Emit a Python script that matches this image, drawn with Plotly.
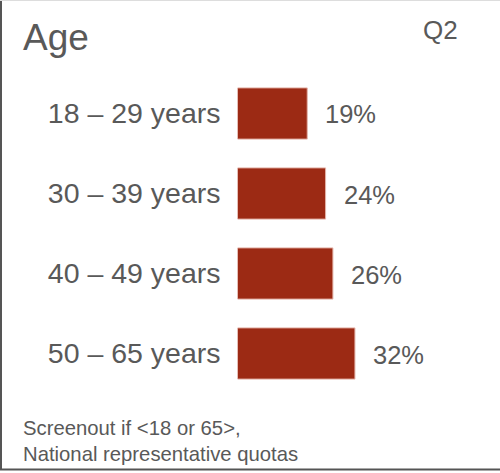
import plotly.graph_objects as go

# data
groups = ["18 – 29 years", "30 – 39 years", "40 – 49 years", "50 – 65 years"]
shares = [19, 24, 26, 32]

W, H = 500, 473
grey = "#595959"
font = "Liberation Sans, Arial, sans-serif"

fig = go.Figure()
fig.add_trace(go.Bar(
    x=shares, y=groups, orientation="h",
    marker=dict(color="#9c2a14", line=dict(color="#e3b3a9", width=1)),
    width=0.64, hoverinfo="skip",
))

# value labels just right of each bar
for g, v in zip(groups, shares):
    fig.add_annotation(x=v, y=g, xref="x", yref="y", text=f"{v}%",
                       xanchor="left", yanchor="middle", xshift=16, yshift=-1,
                       showarrow=False, font=dict(size=25.5, color=grey, family=font))

fig.add_annotation(x=21 / W, y=1 - 37 / H, xref="paper", yref="paper", text="Age",
                   xanchor="left", yanchor="middle", showarrow=False,
                   font=dict(size=37, color=grey, family=font))
fig.add_annotation(x=460 / W, y=1 - 30 / H, xref="paper", yref="paper", text="Q2",
                   xanchor="right", yanchor="middle", showarrow=False,
                   font=dict(size=26, color=grey, family=font))
fig.add_annotation(x=21 / W, y=1 - 441 / H, xref="paper", yref="paper",
                   text="Screenout if &lt;18 or 65&gt;,<br>National representative quotas",
                   xanchor="left", yanchor="middle", align="left", showarrow=False,
                   font=dict(size=20.3, color=grey, family=font))

# frame: dark left + bottom edges, faint top edge
fig.add_shape(type="line", xref="paper", yref="paper", x0=1 / W, x1=1 / W, y0=1 - 470 / H, y1=1,
              line=dict(color="#555555", width=2))
fig.add_shape(type="line", xref="paper", yref="paper", x0=0, x1=1, y0=1 - 469.5 / H, y1=1 - 469.5 / H,
              line=dict(color="#555555", width=2))
fig.add_shape(type="line", xref="paper", yref="paper", x0=0, x1=1, y0=1 - 0.5 / H, y1=1 - 0.5 / H,
              line=dict(color="#dddddd", width=1))

fig.update_layout(
    width=W, height=H,
    margin=dict(l=0, r=0, t=0, b=0),
    paper_bgcolor="white", plot_bgcolor="white",
    showlegend=False,
    xaxis=dict(domain=[237.5 / W, 1], range=[0, (W - 237.5) / 3.67],
               visible=False, fixedrange=True),
    yaxis=dict(domain=[1 - 393.5 / H, 1 - 73.5 / H], range=[3.5, -0.5],
               categoryorder="array", categoryarray=groups,
               showgrid=False, zeroline=False, showline=False, ticks="",
               ticklabelstandoff=16,
               tickfont=dict(size=28.5, color=grey, family=font), fixedrange=True),
)

fig.write_html("out.html", config={"displayModeBar": False},
               post_script="document.body.style.margin='0';")
